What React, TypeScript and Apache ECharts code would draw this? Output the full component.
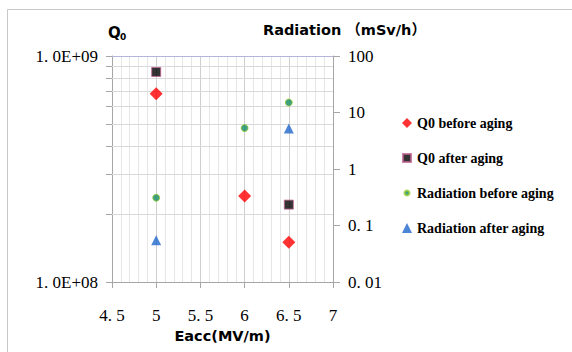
import React, { useEffect, useRef } from "react";
import * as echarts from "echarts";

const xTicks = [4.5, 5, 5.5, 6, 6.5, 7];
const q0Minor = [2e8, 3e8, 4e8, 5e8, 6e8, 7e8, 8e8, 9e8];
const q0TickValues = [1e8, 2e8, 3e8, 4e8, 5e8, 6e8, 7e8, 8e8, 9e8, 1e9];

const q0Before: [number, number][] = [[5, 6.8e8], [6, 2.4e8], [6.5, 1.5e8]];
const q0After: [number, number][] = [[5, 8.5e8], [6.5, 2.2e8]];
const radBefore: [number, number][] = [[5, 0.31], [6, 5.3], [6.5, 15]];
const radAfter: [number, number][] = [[5, 0.055], [6.5, 5.2]];

const seriesNames = [
  "Q0 before aging",
  "Q0 after aging",
  "Radiation before aging",
  "Radiation after aging",
];

const serif = "'Liberation Serif', 'Times New Roman', serif";
const sans = "'DejaVu Sans', 'Noto Sans CJK SC', sans-serif";

function fmtNum(v: number): string {
  const s = String(v);
  return s.replace(".", ". ");
}

export default function App() {
  const ref = useRef<HTMLDivElement>(null);
  useEffect(() => {
    if (!ref.current) return;
    const chart = echarts.init(ref.current, undefined, { renderer: "svg" });
    chart.setOption({
      animation: false,
      backgroundColor: "#ffffff",
      grid: { left: 112, right: 239, top: 56, bottom: 70, containLabel: false },
      graphic: [
        { type: "line", shape: { x1: 7.5, y1: 9.5, x2: 572, y2: 9.5 }, style: { stroke: "#c8c8c8", lineWidth: 1 } },
        { type: "line", shape: { x1: 7.5, y1: 9.5, x2: 7.5, y2: 352 }, style: { stroke: "#c8c8c8", lineWidth: 1 } },
        { type: "text", x: 108, y: 25, style: { text: "Q", font: `bold 15px ${sans}`, fill: "#000" } },
        { type: "text", x: 120, y: 32, style: { text: "0", font: `bold 9px ${sans}`, fill: "#000" } },
        { type: "text", x: 263, y: 23, style: { text: "Radiation （mSv/h）", font: `bold 14.5px ${sans}`, fill: "#000" } },
      ],
      legend: {
        orient: "vertical",
        left: 396,
        top: 111,
        itemGap: 21,
        itemWidth: 10,
        itemHeight: 10,
        data: [
          { name: seriesNames[0], icon: "diamond" },
          { name: seriesNames[1], icon: "path://M1,1L9,1L9,9L1,9Z M0,0L0.01,0 M10,10L10.01,10" },
          { name: seriesNames[2], icon: "path://M5,2.5A2.5,2.5,0,1,1,4.99,2.5Z M0,0L0.01,0 M10,10L10.01,10" },
          { name: seriesNames[3], icon: "triangle" },
        ],
        textStyle: { fontFamily: serif, fontWeight: "bold", fontSize: 14, color: "#000" },
      },
      xAxis: [
        {
          type: "value",
          min: 4.5,
          max: 7,
          interval: 0.5,
          name: "Eacc(MV/m)",
          nameLocation: "middle",
          nameGap: 36,
          nameTextStyle: { fontFamily: sans, fontWeight: "bold", fontSize: 14.5, color: "#000" },
          axisLine: { show: true, onZero: false, lineStyle: { color: "#a6a6a6" } },
          axisTick: { show: true, inside: false, length: 6, lineStyle: { color: "#a6a6a6" } },
          axisLabel: {
            margin: 25,
            fontFamily: serif,
            fontSize: 17,
            color: "#000",
            formatter: (v: number) => fmtNum(v),
            customValues: xTicks,
          },
          splitLine: { show: true, lineStyle: { color: "#cfcfcf" } },
          minorTick: { show: false, splitNumber: 5 },
          minorSplitLine: { show: true, lineStyle: { color: "#e6e6e6" } },
        },
        {
          type: "value",
          position: "top",
          min: 4.5,
          max: 7,
          axisLine: { show: true, onZero: false, lineStyle: { color: "#b4b4dc" } },
          axisTick: { show: false },
          axisLabel: { show: false },
          splitLine: { show: false },
        },
      ],
      yAxis: [
        {
          type: "log",
          logBase: 10,
          min: 1e8,
          max: 1e9,
          position: "left",
          axisLine: { show: true, onZero: false, lineStyle: { color: "#a6a6a6" } },
          axisTick: { show: true, inside: false, length: 6, lineStyle: { color: "#a6a6a6" }, customValues: q0TickValues },
          axisLabel: {
            margin: 14,
            fontFamily: serif,
            fontSize: 17,
            color: "#000",
            formatter: (v: number) => (v >= 5e8 ? "1. 0E+09" : "1. 0E+08"),
          },
          splitLine: { show: false },
        },
        {
          type: "log",
          logBase: 10,
          min: 0.01,
          max: 100,
          position: "right",
          axisLine: { show: true, onZero: false, lineStyle: { color: "#a6a6a6" } },
          axisTick: { show: true, inside: false, length: 7, lineStyle: { color: "#a6a6a6" } },
          axisLabel: {
            margin: 15,
            fontFamily: serif,
            fontSize: 17,
            color: "#000",
            formatter: (v: number) => {
              if (v >= 50) return "100";
              if (v >= 5) return "10";
              if (v >= 0.5) return "1";
              if (v >= 0.05) return "0. 1";
              return "0. 01";
            },
          },
          splitLine: { show: false },
        },
      ],
      series: [
        {
          name: seriesNames[0],
          type: "scatter",
          xAxisIndex: 0,
          yAxisIndex: 0,
          symbol: "diamond",
          symbolSize: 13,
          itemStyle: { color: "#ff0000" },
          data: q0Before,
          z: 5,
          markLine: {
            silent: true,
            symbol: "none",
            label: { show: false },
            lineStyle: { color: "#d9d9d9", width: 1, type: "solid" },
            data: q0Minor.map((v) => ({ yAxis: v })),
            z: 1,
          },
        },
        {
          name: seriesNames[1],
          type: "scatter",
          xAxisIndex: 0,
          yAxisIndex: 0,
          symbol: "rect",
          symbolSize: 9,
          itemStyle: { color: "#000000", borderColor: "#c06090", borderWidth: 1 },
          data: q0After,
          z: 5,
        },
        {
          name: seriesNames[2],
          type: "scatter",
          xAxisIndex: 0,
          yAxisIndex: 1,
          symbol: "circle",
          symbolSize: 7,
          itemStyle: { color: "#128a60", borderColor: "#9acd32", borderWidth: 1 },
          data: radBefore,
          z: 5,
        },
        {
          name: seriesNames[3],
          type: "scatter",
          xAxisIndex: 0,
          yAxisIndex: 1,
          symbol: "triangle",
          symbolSize: 10,
          itemStyle: { color: "#1f66cc" },
          data: radAfter,
          z: 5,
        },
      ],
    });
    return () => chart.dispose();
  }, []);
  return (
    <div
      ref={ref}
      style={{ position: "fixed", left: 0, top: 0, width: 572, height: 352 }}
    />
  );
}
